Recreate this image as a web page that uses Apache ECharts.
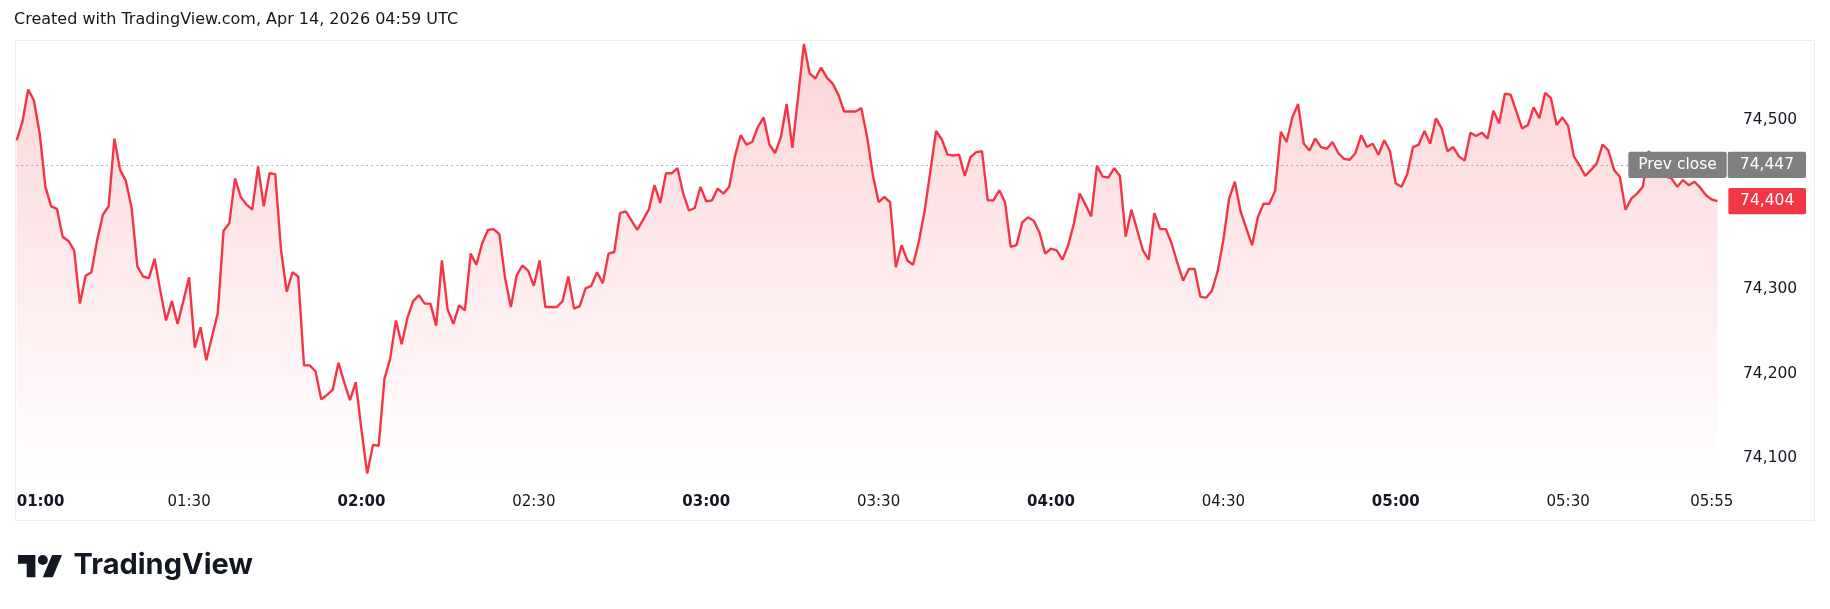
<!DOCTYPE html>
<html><head><meta charset="utf-8">
<script src="https://cdn.jsdelivr.net/npm/echarts@6/dist/echarts.min.js"></script>
<style>html,body{margin:0;padding:0;background:#fff}#c{width:1830px;height:609px}</style>
</head><body><div id="c"></div>
<script>
// ---- data ----
const startTime = '01:00';          // first 1-minute bar
const prices = [
74476,74498,74536,74523,74484,74421,74398,74395,74362,74357,
74346,74283,74316,74320,74358,74388,74398,74478,74441,74428,
74396,74327,74315,74313,74336,74298,74263,74286,74259,74286,
74314,74231,74255,74216,74244,74272,74369,74378,74431,74409,
74400,74394,74445,74398,74437,74436,74346,74297,74320,74315,
74210,74210,74203,74170,74175,74181,74213,74190,74169,74190,
74134,74082,74116,74115,74194,74218,74263,74235,74266,74286,
74293,74283,74283,74257,74334,74276,74259,74281,74275,74342,
74329,74354,74370,74371,74365,74313,74279,74316,74328,74322,
74304,74334,74279,74279,74279,74286,74315,74277,74280,74301,
74304,74320,74307,74342,74344,74390,74392,74381,74370,74382,
74394,74423,74402,74437,74437,74443,74413,74393,74396,74421,
74404,74405,74419,74413,74421,74457,74482,74471,74474,74492,
74503,74471,74461,74480,74519,74467,74528,74590,74555,74549,
74562,74550,74543,74530,74510,74510,74510,74514,74480,74435,
74403,74409,74403,74326,74352,74334,74329,74356,74392,74439,
74487,74477,74459,74458,74459,74434,74456,74462,74463,74405,
74405,74417,74403,74350,74352,74379,74385,74381,74367,74342,
74348,74346,74335,74352,74378,74413,74400,74386,74446,74433,
74432,74443,74434,74362,74394,74370,74346,74335,74390,74371,
74371,74354,74331,74310,74324,74324,74291,74290,74298,74321,
74358,74407,74427,74392,74372,74352,74385,74401,74401,74416,
74486,74474,74503,74519,74472,74464,74478,74468,74466,74474,
74461,74454,74453,74461,74482,74468,74472,74459,74476,74463,
74425,74421,74436,74468,74471,74487,74472,74502,74490,74463,
74468,74457,74452,74485,74481,74485,74478,74511,74496,74531,
74530,74510,74490,74494,74515,74502,74532,74526,74494,74503,
74493,74457,74446,74434,74441,74449,74471,74464,74441,74433,
74394,74407,74413,74421,74463,74455,74445,74433,74431,74421,
74429,74423,74427,74420,74411,74406,74404
];
const tickLabels = ['01:00','01:30','02:00','02:30','03:00','03:30','04:00','04:30','05:00','05:30','05:55'];
const boldLabels = ['01:00','02:00','03:00','04:00','05:00'];
const prevClose = 74447;
const titleText = 'Created with TradingView.com, Apr 14, 2026 04:59 UTC';

// ---- build categories (one per minute) ----
const [h0, m0] = startTime.split(':').map(Number);
const categories = prices.map((_, i) => {
  const t = h0 * 60 + m0 + i;
  return String(Math.floor(t / 60)).padStart(2, '0') + ':' + String(t % 60).padStart(2, '0');
});
const lastIdx = prices.length - 1;
const lastVal = prices[lastIdx];
const fmt = v => Number(v).toLocaleString('en-US');

const RED = '#F23645';
const INK = '#131722';
const FONT = 'DejaVu Sans';
const BOX = 'path://M2,0H96A2,2 0 0 1 98,2V24A2,2 0 0 1 96,26H2A2,2 0 0 1 0,24V2A2,2 0 0 1 2,0Z';

const chart = echarts.init(document.getElementById('c'), null, {renderer: 'canvas'});
chart.setOption({
  animation: false,
  backgroundColor: '#ffffff',
  grid: {left: 16.7, right: 112.5, top: 35.4, bottom: 66, containLabel: false},
  xAxis: {
    type: 'category',
    data: categories,
    boundaryGap: false,
    offset: -53,
    axisLine: {show: false},
    axisTick: {show: false},
    splitLine: {show: false},
    axisLabel: {
      interval: (i, v) => tickLabels.includes(v),
      margin: 12,
      verticalAlign: 'middle',
      alignMinLabel: 'left',
      formatter: v => boldLabels.includes(v) ? '{b|' + v + '}' : '{n|' + v + '}',
      rich: {
        b: {fontFamily: FONT, fontSize: 15, fontWeight: 'bold', color: INK},
        n: {fontFamily: FONT, fontSize: 15, color: INK}
      }
    }
  },
  yAxis: {
    type: 'value',
    position: 'right',
    min: 74000, max: 74600, interval: 100,
    axisLine: {show: false},
    axisTick: {show: false},
    splitLine: {show: false},
    axisLabel: {
      showMinLabel: false, showMaxLabel: false,
      margin: 25.5, align: 'left',
      fontFamily: FONT, fontSize: 15.5, color: INK,
      formatter: v => fmt(v)
    }
  },
  series: [{
    type: 'line',
    data: prices,
    symbol: 'none',
    smooth: false,
    clip: false,
    lineStyle: {color: RED, width: 2.4},
    areaStyle: {
      origin: 74074,
      color: new echarts.graphic.LinearGradient(0, 0, 0, 1, [
        {offset: 0, color: 'rgba(242,54,69,0.30)'},
        {offset: 1, color: 'rgba(242,54,69,0.0)'}
      ])
    },
    markLine: {
      silent: true,
      symbol: 'none',
      label: {show: false},
      lineStyle: {color: '#6f727c', width: 1, type: [1, 4]},
      data: [{yAxis: prevClose}]
    },
    markPoint: {
      silent: true,
      z: 10,
      data: [
        {coord: [lastIdx, prevClose], symbol: BOX, symbolKeepAspect: false, symbolSize: [98.4, 26.3], symbolOffset: [-40, 0],
         itemStyle: {color: '#808080'},
         label: {show: true, formatter: 'Prev close', color: '#fff', fontFamily: FONT, fontSize: 15.5}},
        {coord: [lastIdx, prevClose], symbol: BOX, symbolKeepAspect: false, symbolSize: [78.3, 26.3], symbolOffset: [49.4, 0],
         itemStyle: {color: '#808080'},
         label: {show: true, formatter: fmt(prevClose), color: '#fff', fontFamily: FONT, fontSize: 15.5}},
        {coord: [lastIdx, lastVal], symbol: BOX, symbolKeepAspect: false, symbolSize: [77.7, 26.3], symbolOffset: [49.7, 0],
         itemStyle: {color: RED},
         label: {show: true, formatter: fmt(lastVal), color: '#fff', fontFamily: FONT, fontSize: 15.5}}
      ]
    }
  }],
  graphic: [
    {type: 'rect', z: -1, silent: true, shape: {x: 15.5, y: 40.5, width: 1799, height: 480},
     style: {fill: 'none', stroke: '#fbe6eb', lineWidth: 1}},
    {type: 'text', left: 14, top: 12, silent: true,
     style: {text: titleText, fill: INK, font: '16px "DejaVu Sans"'}},
    {type: 'polygon', silent: true, shape: {points: [[18,555],[35.4,555],[35.4,577.3],[26.7,577.3],[26.7,563.7],[18,563.7]]}, style: {fill: INK}},
    {type: 'circle', silent: true, shape: {cx: 42.8, cy: 560, r: 5}, style: {fill: INK}},
    {type: 'polygon', silent: true, shape: {points: [[42.8,577.3],[52.1,555],[62,555],[52.7,577.3]]}, style: {fill: INK}},
    {type: 'text', left: 73.5, top: 551, silent: true,
     style: {text: 'TradingView', fill: INK, font: 'bold 29px Inter'}}
  ]
});
</script></body></html>
